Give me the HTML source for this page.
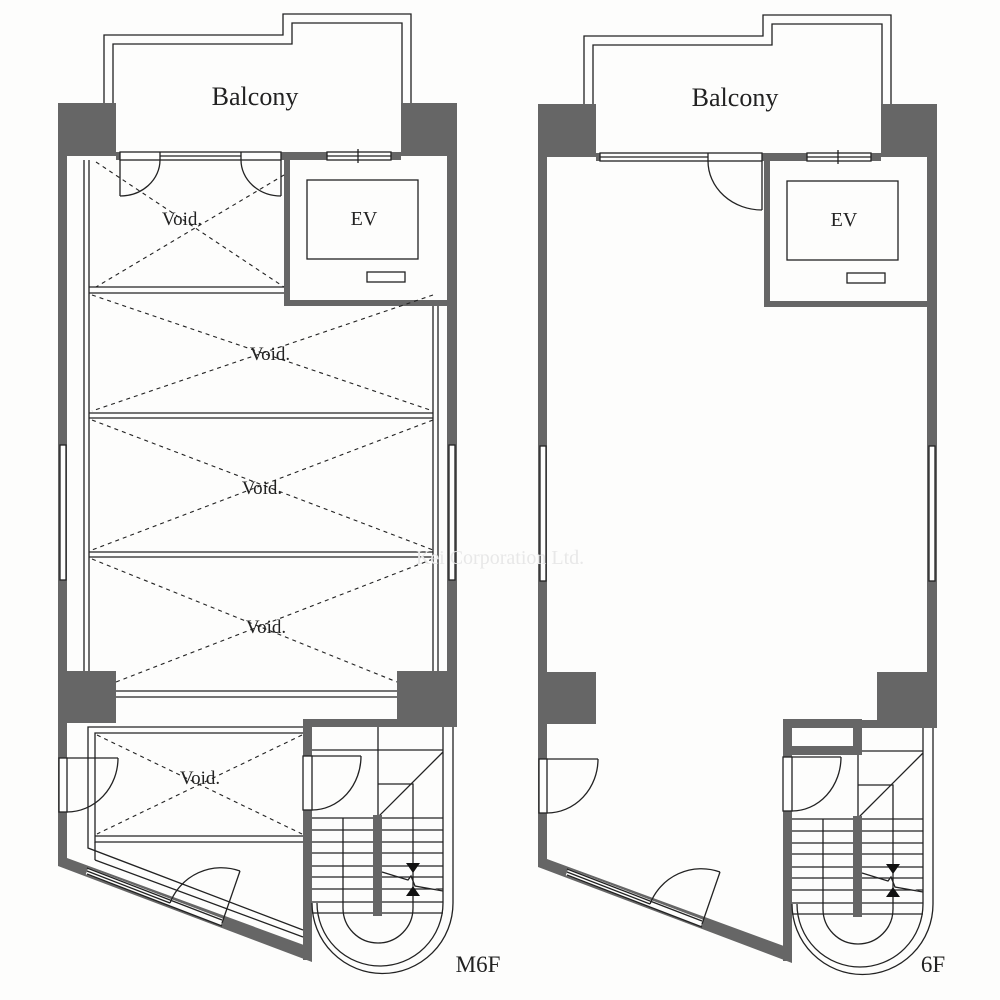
<!DOCTYPE html>
<html><head><meta charset="utf-8"><style>
html,body{margin:0;padding:0;background:#fdfdfc;}
svg{display:block}
text{font-family:"Liberation Serif",serif;fill:#222}
</style></head><body>
<svg width="1000" height="1000" viewBox="0 0 1000 1000" xmlns="http://www.w3.org/2000/svg">
<defs>
<g id="base" stroke="#222" stroke-width="1.3" fill="none">
  <polyline points="104,103 104,35 283,35 283,14 411,14 411,103"/>
  <polyline points="113,103 113,44 292,44 292,23 402,23 402,103"/>
  <g fill="#666" stroke="none">
    <rect x="58" y="103" width="58" height="53"/>
    <rect x="58" y="156" width="9" height="705"/>
    <rect x="116" y="152" width="285" height="8"/>
    <rect x="401" y="103" width="56" height="53"/>
    <rect x="447" y="156" width="10" height="571"/>
    <rect x="284" y="160" width="6" height="146"/>
    <rect x="284" y="300" width="163" height="6"/>
    <rect x="59" y="671" width="57" height="52"/>
    <rect x="397" y="671" width="60" height="56"/>
    <rect x="303" y="719" width="94" height="8"/>
    <rect x="303" y="719" width="9" height="241"/>
    <polygon points="58,850 67,850 67,858 312,948 312,962 58,866"/>
  </g>
  <rect x="290" y="160" width="157" height="140" fill="#fdfdfc" stroke="none"/>
  <rect x="307" y="180" width="111" height="79"/>
  <rect x="367" y="272" width="38" height="10"/>
  <rect x="327" y="152" width="64" height="8" fill="#fdfdfc"/>
  <line x1="327" y1="156" x2="391" y2="156"/>
  <line x1="358" y1="149" x2="358" y2="163"/>
  <rect x="60" y="445" width="6" height="135" fill="#fdfdfc"/>
  <rect x="449" y="445" width="6" height="135" fill="#fdfdfc"/>
  <line x1="87" y1="871" x2="222" y2="922" stroke="#fdfdfc" stroke-width="7"/>
  <line x1="87" y1="868" x2="170" y2="900"/>
  <line x1="87" y1="871" x2="170" y2="903"/>
  <line x1="87" y1="874" x2="170" y2="906"/>
  <line x1="170" y1="900" x2="222" y2="920"/>
  <line x1="170" y1="906" x2="222" y2="926"/>
  <line x1="222" y1="923" x2="240" y2="871"/>
  <path d="M240,871 A55,55 0 0 0 170,903"/>
  <rect x="59" y="758" width="8" height="54" fill="#fdfdfc"/>
  <line x1="67" y1="758" x2="118" y2="758"/>
  <path d="M118,758 A51,54 0 0 1 67,812"/>
  <path d="M312,903 A70,70 0 0 0 453,903 L453,727"/>
  <path d="M317,903 A63,63 0 0 0 443,903 L443,727"/>
  <path d="M343,818 L343,908 A35,35 0 0 0 413,908 L413,784 L378,784"/>
  <line x1="378" y1="727" x2="378" y2="815"/>
  <line x1="312" y1="750" x2="443" y2="750"/>
  <line x1="443" y1="752" x2="378" y2="817"/>
  <g>
    <line x1="312" y1="818" x2="443" y2="818"/>
    <line x1="312" y1="830" x2="443" y2="830"/>
    <line x1="312" y1="842" x2="443" y2="842"/>
    <line x1="312" y1="853" x2="443" y2="853"/>
    <line x1="312" y1="866" x2="443" y2="866"/>
    <line x1="312" y1="877" x2="443" y2="877"/>
    <line x1="312" y1="889" x2="443" y2="889"/>
    <line x1="312" y1="902" x2="443" y2="902"/>
    <line x1="312" y1="913" x2="443" y2="913"/>
  </g>
  <rect x="373" y="815" width="9" height="101" fill="#666" stroke="none"/>
  <path d="M382,872 L408,880 L411,876 L415,886 L443,891" fill="#fdfdfc"/>
  <polygon points="406,863 420,863 413,873" fill="#111" stroke="none"/>
  <polygon points="406,896 420,896 413,886" fill="#111" stroke="none"/>
  <rect x="303" y="756" width="9" height="54" fill="#fdfdfc"/>
  <line x1="312" y1="756" x2="361" y2="756"/>
  <path d="M361,756 A49,54 0 0 1 312,810"/>
</g>
</defs>

<use href="#base"/>
<use href="#base" transform="translate(480,1)"/>

<g stroke="#222" stroke-width="1.3" fill="none">
  <rect x="120" y="152" width="161" height="8" fill="#fdfdfc"/>
  <line x1="160" y1="156" x2="241" y2="156"/>
  <line x1="160" y1="152" x2="160" y2="160"/>
  <line x1="241" y1="152" x2="241" y2="160"/>
  <line x1="120" y1="160" x2="120" y2="196"/>
  <path d="M120,196 A40,36 0 0 0 160,160"/>
  <line x1="281" y1="160" x2="281" y2="196"/>
  <path d="M281,196 A40,36 0 0 1 241,160"/>
  <line x1="84" y1="160" x2="84" y2="671"/>
  <line x1="89" y1="160" x2="89" y2="671"/>
  <line x1="433" y1="306" x2="433" y2="671"/>
  <line x1="438" y1="306" x2="438" y2="671"/>
  <line x1="89" y1="287" x2="284" y2="287"/>
  <line x1="89" y1="293" x2="284" y2="293"/>
  <line x1="89" y1="413" x2="433" y2="413"/>
  <line x1="89" y1="418" x2="433" y2="418"/>
  <line x1="89" y1="552" x2="433" y2="552"/>
  <line x1="89" y1="557" x2="433" y2="557"/>
  <line x1="116" y1="691" x2="397" y2="691"/>
  <line x1="116" y1="697" x2="397" y2="697"/>
  <polyline points="303,727 88,727 88,848 303,930"/>
  <polyline points="303,733 95,733 95,842 303,842"/>
  <line x1="95" y1="836" x2="303" y2="836"/>
  <line x1="95" y1="860" x2="303" y2="937"/>
  <line x1="95" y1="842" x2="95" y2="860"/>
  <g stroke-dasharray="4,4" stroke-width="1.1">
    <line x1="96" y1="162" x2="284" y2="287"/><line x1="284" y1="175" x2="96" y2="287"/>
    <line x1="92" y1="295" x2="433" y2="411"/><line x1="433" y1="295" x2="92" y2="411"/>
    <line x1="92" y1="420" x2="433" y2="550"/><line x1="433" y1="420" x2="92" y2="550"/>
    <line x1="92" y1="559" x2="397" y2="682"/><line x1="433" y1="559" x2="116" y2="682"/>
    <line x1="97" y1="735" x2="302" y2="834"/><line x1="302" y1="735" x2="97" y2="834"/>
  </g>
</g>

<g stroke="#222" stroke-width="1.3" fill="none">
  <rect x="600" y="153" width="162" height="8" fill="#fdfdfc"/>
  <line x1="600" y1="157" x2="708" y2="157"/>
  <line x1="708" y1="153" x2="708" y2="161"/>
  <line x1="762" y1="161" x2="762" y2="210"/>
  <path d="M708,161 A54,49 0 0 0 762,210"/>
  <rect x="783" y="719" width="79" height="36" fill="#666" stroke="none"/>
  <rect x="792" y="728" width="61" height="18" fill="#fdfdfc" stroke="none"/>
</g>

<text x="255" y="105" font-size="26" text-anchor="middle">Balcony</text>
<text x="735" y="106" font-size="26" text-anchor="middle">Balcony</text>
<text x="364" y="225" font-size="20" text-anchor="middle">EV</text>
<text x="844" y="226" font-size="20" text-anchor="middle">EV</text>
<text x="182" y="225" font-size="19" text-anchor="middle">Void.</text>
<text x="270" y="360" font-size="19" text-anchor="middle">Void.</text>
<text x="262" y="494" font-size="19" text-anchor="middle">Void.</text>
<text x="266" y="633" font-size="19" text-anchor="middle">Void.</text>
<text x="200" y="784" font-size="19" text-anchor="middle">Void.</text>
<text x="478" y="972" font-size="23" text-anchor="middle">M6F</text>
<text x="933" y="972" font-size="23" text-anchor="middle">6F</text>
<text x="500" y="564" font-size="20" text-anchor="middle" style="fill:#e8e8e8">Kei Corporation Ltd.</text>
</svg>
</body></html>
